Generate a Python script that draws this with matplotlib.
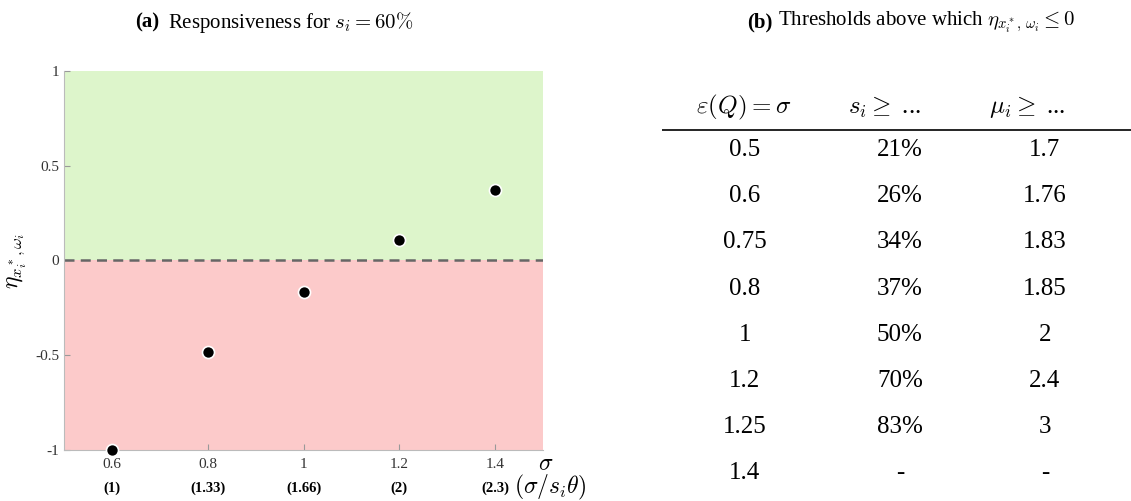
import numpy as np
import matplotlib
matplotlib.use('Agg')
import matplotlib.pyplot as plt

plt.rcParams['font.family'] = ['Liberation Serif', 'DejaVu Serif']
plt.rcParams['mathtext.fontset'] = 'cm'

# panel (a) data
sigma = [0.6, 0.8, 1.0, 1.2, 1.4]
eta = [-1.0, -0.483, -0.166, 0.108, 0.372]
ratio_labels = ['(1)', '(1.33)', '(1.66)', '(2)', '(2.3)']

# panel (b) table
tab_header = [r'$\varepsilon(Q) = \sigma$', r'$s_i \geq$ ...', r'$\mu_i \geq$ ...']
tab_sigma = ['0.5', '0.6', '0.75', '0.8', '1', '1.2', '1.25', '1.4']
tab_s = ['21%', '26%', '34%', '37%', '50%', '70%', '83%', '-']
tab_mu = ['1.7', '1.76', '1.83', '1.85', '2', '2.4', '3', '-']

fig = plt.figure(figsize=(11.31, 5.01), dpi=100)

ax = fig.add_axes([0.0566, 0.1018, 0.4235, 0.7565])
ax.set_xlim(0.5, 1.5)
ax.set_ylim(-1, 1)
ax.axhspan(0, 1, color='#ddf5cb', lw=0)
ax.axhspan(-1, 0, color='#fccaca', lw=0)
ax.axhline(0, color='#666666', ls=(0, (4, 2.5)), lw=1.8)
ax.scatter(sigma, eta, s=75, color='black', edgecolor='white', linewidth=1.2, zorder=5, clip_on=False)

ax.set_xticks(sigma)
ax.set_xticklabels(['0.6', '0.8', '1', '1.2', '1.4'])
ax.set_yticks([-1, -0.5, 0, 0.5, 1])
ax.set_yticklabels(['-1', '-0.5', '0', '0.5', '1'])
ax.tick_params(axis='both', direction='in', length=4, color='#999999', labelsize=11, colors='#333333')
ax.tick_params(axis='x', pad=6)
for sp in ['top', 'right']:
    ax.spines[sp].set_visible(False)
for sp in ['left', 'bottom']:
    ax.spines[sp].set_color('#bbbbbb')
    ax.spines[sp].set_linewidth(0.8)

ax.set_ylabel(r'$\eta_{x_i^*,\omega_i}$', fontsize=17, labelpad=4)
ax.text(1.49, -1.075, r'$\sigma$', fontsize=17, ha='left', va='center')
for x, lab in zip(sigma, ratio_labels):
    ax.text(x, -1.2, lab, fontsize=10.5, fontweight='bold', ha='center', va='center')
ax.text(1.44, -1.2, r'$(\sigma/s_i\theta)$', fontsize=17, ha='left', va='center')

# titles
fig.text(0.1195, 0.955, '(a)', fontsize=15, fontweight='bold', ha='left', va='center')
fig.text(0.1485, 0.955, r'Responsiveness for $s_i = 60\%$', fontsize=15, ha='left', va='center')
fig.text(0.661, 0.955, '(b)', fontsize=15, fontweight='bold', ha='left', va='center')
fig.text(0.688, 0.955, r'Thresholds above which $\eta_{x_i^*,\,\omega_i} \leq 0$', fontsize=15, ha='left', va='center')

# table
tx = fig.add_axes([0.585, 0.0, 0.415, 1.0])
tx.set_xlim(662, 1131)
tx.set_ylim(501, 0)
tx.axis('off')
head_x = [744, 885, 1027]
col_x = [745, 900, 1045]
for hx, h in zip(head_x, tab_header):
    tx.text(hx, 107, h, fontsize=18, ha='center', va='center')
tx.plot([662, 1131], [130, 130], color='black', lw=1.2)
row_y = 150 + 46.2 * np.arange(len(tab_sigma))
for y, a, b, c in zip(row_y, tab_sigma, tab_s, tab_mu):
    tx.text(col_x[0], y, a, fontsize=18, ha='center', va='center')
    tx.text(col_x[1], y, b, fontsize=18, ha='center', va='center')
    tx.text(col_x[2], y, c, fontsize=18, ha='center', va='center')

fig.savefig('out.png', dpi=100)
